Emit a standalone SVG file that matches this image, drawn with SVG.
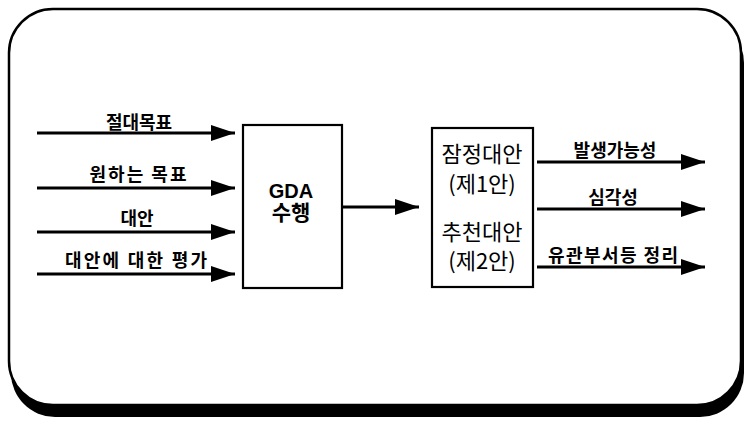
<svg xmlns="http://www.w3.org/2000/svg" width="746" height="421" viewBox="0 0 746 421">
<defs>
<style>
.lbl{font-family:"Noto Sans CJK KR","Liberation Sans",sans-serif;font-weight:bold;font-size:18px;fill:#000;text-anchor:middle;dominant-baseline:central}
.big{font-family:"Noto Sans CJK KR","Liberation Sans",sans-serif;font-size:22px;fill:#000;text-anchor:middle;dominant-baseline:central}
.gda{font-family:"Liberation Sans","Noto Sans CJK KR",sans-serif;font-weight:bold;font-size:20px;fill:#000;text-anchor:middle;dominant-baseline:central}
.box{fill:#fff;stroke:#000;stroke-width:2.2}
.arr{stroke:#000;stroke-width:3;fill:none;marker-end:url(#ah)}
</style>
<marker id="ah" viewBox="0 0 24 16" refX="24" refY="8" markerWidth="24" markerHeight="16" markerUnits="userSpaceOnUse" orient="auto">
<path d="M0,0 L24,8 L0,16 Z" fill="#000"/>
</marker>
</defs>
<rect width="746" height="421" fill="#fff"/>
<g id="frame">
<rect x="11" y="19" width="733" height="398" rx="44" fill="#000"/>
<rect x="9" y="9" width="732" height="396" rx="44" fill="#fff" stroke="#000" stroke-width="2.5"/>
</g>
<g id="connectors">
<line class="arr" x1="37" y1="133" x2="235" y2="133"/>
<line class="arr" x1="37" y1="188" x2="235" y2="188"/>
<line class="arr" x1="37" y1="232" x2="235" y2="232"/>
<line class="arr" x1="37" y1="274" x2="235" y2="274"/>
<line class="arr" x1="342" y1="207" x2="419" y2="207"/>
<line class="arr" x1="537" y1="162" x2="705" y2="162"/>
<line class="arr" x1="537" y1="209" x2="705" y2="209"/>
<line class="arr" x1="537" y1="267" x2="705" y2="267"/>
</g>
<g id="input-labels">
<text class="lbl" x="139" y="121">절대목표</text>
<text class="lbl" x="138" y="173" textLength="97" lengthAdjust="spacing">원하는 목표</text>
<text class="lbl" x="137" y="217">대안</text>
<text class="lbl" x="136" y="259" textLength="142" lengthAdjust="spacing">대안에 대한 평가</text>
</g>
<g id="gda">
<rect class="box" x="243" y="125" width="99" height="163"/>
<text class="gda" x="291" y="191">GDA</text>
<text class="gda" x="291" y="212" style="font-size:21px">수행</text>
</g>
<g id="alternatives">
<rect class="box" x="432" y="128" width="101" height="159"/>
<text class="big" x="482" y="152">잠정대안</text>
<text class="big" x="482" y="182">(제1안)</text>
<text class="big" x="482" y="230">추천대안</text>
<text class="big" x="482" y="259">(제2안)</text>
</g>
<g id="output-labels">
<text class="lbl" x="615" y="149">발생가능성</text>
<text class="lbl" x="613" y="196">심각성</text>
<text class="lbl" x="613" y="254" textLength="130" lengthAdjust="spacing">유관부서등 정리</text>
</g>
</svg>
